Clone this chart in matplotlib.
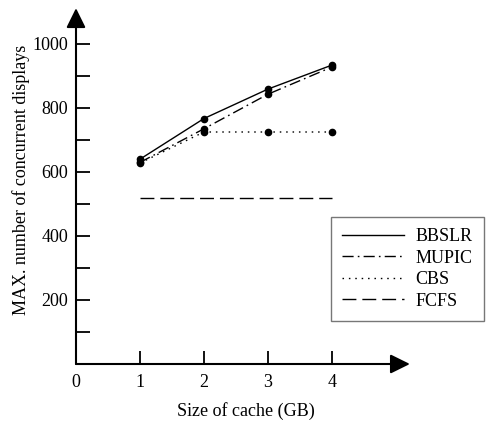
import matplotlib
matplotlib.use("Agg")
import matplotlib.pyplot as plt
from matplotlib.lines import Line2D

cache_sizes = [1, 2, 3, 4]
bbslr = [640, 767, 859, 934]
mupic = [630, 735, 843, 928]
cbs = [628, 725, 725, 725]
fcfs = [518, 518, 518, 518]
series_names = ["BBSLR", "MUPIC", "CBS", "FCFS"]
x_ticks = [0, 1, 2, 3, 4]
y_major = [200, 400, 600, 800, 1000]
y_minor = [100, 300, 500, 700, 900]

plt.rcParams['font.family'] = ['Liberation Serif', 'DejaVu Serif']
FS = 13

fig = plt.figure(figsize=(4.87, 4.21), dpi=100)
ax = fig.add_axes([76/487, 57/421, 339/487, 356.8/421])
ax.set_xlim(0, 5.3)
ax.set_ylim(0, 1115)

styles = {
    "BBSLR": dict(ls='-'),
    "MUPIC": dict(ls=(0, (8, 3, 1.2, 3))),
    "CBS": dict(ls=(0, (1.1, 3.5))),
    "FCFS": dict(ls=(0, (10, 4.3))),
}
data = {"BBSLR": bbslr, "MUPIC": mupic, "CBS": cbs, "FCFS": fcfs}
for name in series_names:
    vals = data[name]
    marker = 'o' if name != "FCFS" else None
    ax.plot(cache_sizes, vals, color='black', lw=1.0, marker=marker,
            markersize=4.5, clip_on=False, **styles[name])

for s in ['top', 'right', 'left', 'bottom']:
    ax.spines[s].set_visible(False)

# axis arrows
arrow_style = '-|>,head_length=0.85,head_width=0.42'
ax.annotate('', xy=(5.22, 0), xytext=(0, 0), xycoords='data',
            arrowprops=dict(arrowstyle=arrow_style, color='black', lw=1.5,
                            shrinkA=0, shrinkB=0, mutation_scale=14),
            annotation_clip=False)
ax.annotate('', xy=(0, 1112), xytext=(0, 0), xycoords='data',
            arrowprops=dict(arrowstyle=arrow_style, color='black', lw=1.5,
                            shrinkA=0, shrinkB=0, mutation_scale=14),
            annotation_clip=False)

ax.set_yticks(y_major)
ax.set_yticks(y_minor, minor=True)
ax.set_xticks(x_ticks)
ax.set_xticklabels([str(t) for t in x_ticks])
ax.tick_params(axis='y', which='both', direction='in', length=10, width=1.3,
               labelsize=FS, pad=5.5)
ax.tick_params(axis='x', which='both', direction='in', length=9.5, width=1.3,
               labelsize=FS, pad=7.5)
xt = ax.xaxis.get_major_ticks()
xt[0].tick1line.set_visible(False)

ax.set_xlabel("Size of cache (GB)", fontsize=FS, labelpad=8)
ax.set_ylabel("MAX. number of concurrent displays", fontsize=FS, labelpad=2)
ax.yaxis.label.set_y(0.515)

handles = [Line2D([], [], color='black', lw=1.0, **styles[n]) for n in series_names]
leg = fig.legend(handles, series_names, loc='upper left',
                 bbox_to_anchor=(331/487, 1 - 217/421),
                 fontsize=FS, frameon=True, fancybox=False,
                 handlelength=3.4, handletextpad=0.67, borderpad=0.62,
                 labelspacing=0.25, borderaxespad=0)
leg.get_frame().set_edgecolor('#555555')
leg.get_frame().set_linewidth(1.0)

fig.savefig("out.png", dpi=100)
